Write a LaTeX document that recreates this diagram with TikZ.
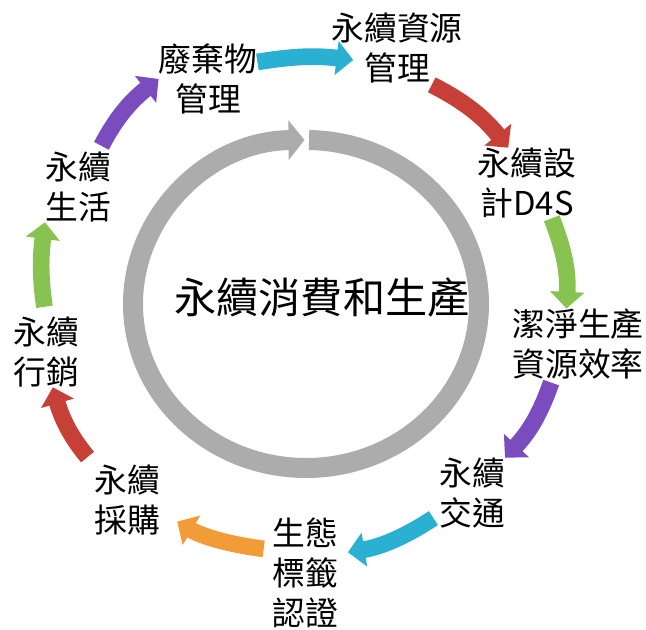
\documentclass[tikz,border=0pt]{standalone}
\usepackage{fontspec}
\setmainfont{Noto Sans CJK TC}
\usetikzlibrary{arrows.meta}
\definecolor{ringgray}{RGB}{172,172,172}
\definecolor{acyan}{RGB}{42,176,210}
\definecolor{ared}{RGB}{198,64,56}
\definecolor{agreen}{RGB}{136,194,80}
\definecolor{apurple}{RGB}{122,76,190}
\definecolor{aorange}{RGB}{242,156,56}
\tikzset{
  stage/.style={inner sep=0pt, align=center, font=\fontsize{28}{34}\selectfont},
  cyc/.style={draw=#1, line width=5mm, -{Triangle[length=5mm,width=10mm]}},
}

\begin{document}
\begin{tikzpicture}[x=0.3mm, y=0.3mm]
  \useasboundingbox (0,0) rectangle (646,630);
  % centre ring
  \draw[ringgray, line width=6mm, -{Triangle[length=4.8mm,width=11.7mm]}]
    (306,326) ++(89:173 and 164) arc[start angle=89, end angle=-269.5, x radius=173, y radius=164];
  \node[inner sep=0pt, font=\fontsize{36}{40}\selectfont] (core) at (322,332) {永續消費和生產};

  \node[stage] (waste) at (208,551) {廢棄物\\管理};
  \node[stage] (resmgmt) at (397,582) {永續資源\\管理};
  \node[stage] (design) at (527,447) {永續設\\計D4S};
  \node[stage] (clean) at (578,286) {潔淨生產\\資源效率};
  \node[stage] (transport) at (472,137) {永續\\交通};
  \node[stage] (ecolabel) at (305,57) {生態\\標籤\\認證};
  \node[stage] (purchase) at (127,130) {永續\\採購};
  \node[stage] (marketing) at (46,278) {永續\\行銷};
  \node[stage] (living) at (78,443) {永續\\生活};

  % outer cycle
  \draw[cyc=acyan] (waste.19) to[bend left=8] ([shift={(22,-12)}]resmgmt.west);
  \draw[cyc=ared, shorten <=1mm] (resmgmt.312) to[bend left=12] (design.118);
  \draw[cyc=agreen] (design.305) to[bend left=12] (clean.108);
  \draw[cyc=apurple, shorten <=1mm] (clean.234) to[bend left=12] (transport.north east);
  \draw[cyc=acyan, shorten <=2mm, shorten >=3mm] (transport.213) to[bend left=12] (ecolabel.30);
  \draw[cyc=aorange, shorten <=2.5mm, shorten >=6mm] (ecolabel.145) to[bend left=12] (purchase.341);
  \draw[cyc=ared, shorten <=3mm] (purchase.north west) to[bend left=12] (marketing.281);
  \draw[cyc=agreen, shorten <=3mm] (marketing.north) to[bend left=8] (living.south west);
  \draw[cyc=apurple, shorten <=2mm] (living.60) to[bend left=12] (waste.west);
\end{tikzpicture}
\end{document}
